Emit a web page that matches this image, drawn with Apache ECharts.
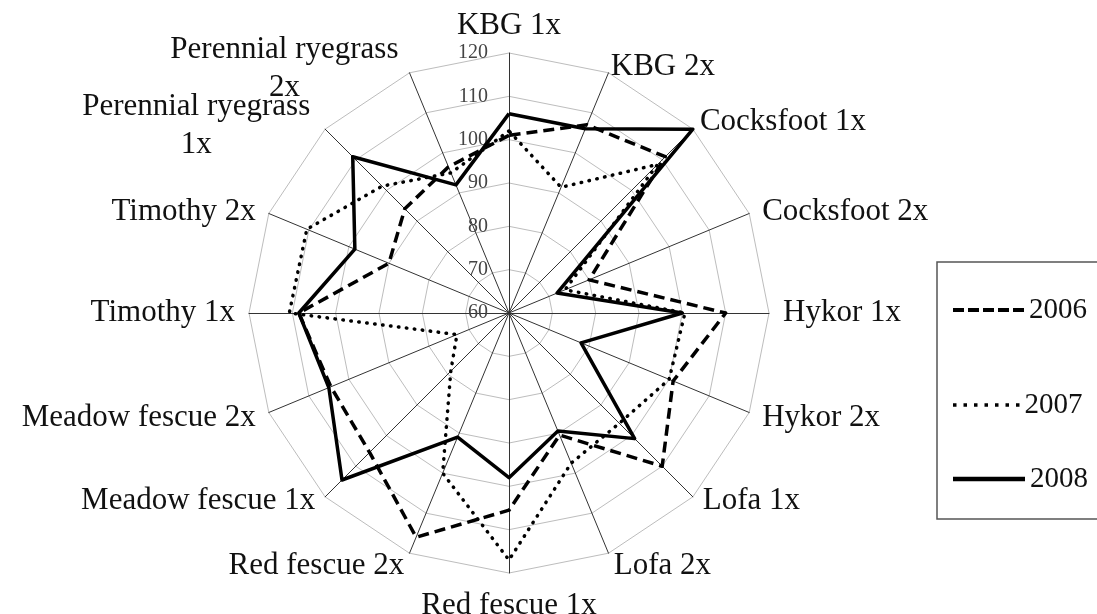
<!DOCTYPE html>
<html>
<head>
<meta charset="utf-8">
<script src="https://cdn.jsdelivr.net/npm/echarts@6/dist/echarts.min.js"></script>
<style>
  html, body { margin: 0; padding: 0; background: #fff; }
  #chart { width: 1097px; height: 614px; }
</style>
</head>
<body>
<div id="chart"></div>
<script>
// Treatments, listed clockwise starting from the top axis
const categories = [
  'KBG 1x', 'KBG 2x', 'Cocksfoot 1x', 'Cocksfoot 2x', 'Hykor 1x', 'Hykor 2x',
  'Lofa 1x', 'Lofa 2x', 'Red fescue 1x', 'Red fescue 2x', 'Meadow fescue 1x',
  'Meadow fescue 2x', 'Timothy 1x', 'Timothy 2x', 'Perennial ryegrass\n1x',
  'Perennial ryegrass\n2x'
];

// Relative values per year, same order as categories
const values2006 = [101, 107, 111, 80, 110, 101, 110, 90.5, 105.5, 116, 105.5, 104.5, 108.5, 90, 94, 96.5];
const values2007 = [102, 91.4, 108.5, 74, 100.6, 100, 96, 97.5, 117, 100, 79, 73, 110.7, 110.5, 101.4, 95];
const values2008 = [106, 106, 120, 72, 100, 78, 101, 89.5, 98, 91, 114.5, 105, 108.5, 98.5, 111, 92];

const years = ['2006', '2007', '2008'];
const scaleMin = 60;
const scaleMax = 120;

const SERIF = '"Liberation Serif", "Times New Roman", serif';
const NAME_SIZE = 31;

// ECharts places radar axes counter-clockwise; flip so they run clockwise
const toCcw = arr => [arr[0]].concat(arr.slice(1).reverse());

// Per-axis distance between the outer ring and the axis name
const nameGaps = {
  'KBG 1x': 8,
  'KBG 2x': 6,
  'Cocksfoot 1x': 10,
  'Perennial ryegrass\n2x': 8,
  'Perennial ryegrass\n1x': 14
};
// Per-axis nudges of the name box [top, right, bottom, left]
const namePads = {
  'Cocksfoot 2x': [8, 0, 0, 0],
  'Timothy 2x': [8, 0, 0, 0],
  'Lofa 1x': [0, 0, 11, 0],
  'Meadow fescue 1x': [0, 0, 11, 0],
  'Perennial ryegrass\n2x': [6, 8, 0, 0],
  'Perennial ryegrass\n1x': [14, 5, 0, 0]
};

const indicators = toCcw(categories).map((name, i) => {
  const ind = { name: name, min: scaleMin, max: scaleMax };
  if (i === 0) ind.axisLabel = { show: true };
  if (nameGaps[name] != null) ind.nameGap = nameGaps[name];
  if (namePads[name]) ind.nameTextStyle = { padding: namePads[name] };
  return ind;
});

// Legend symbols: dashed, dotted and solid strokes
const dashIcon = 'path://M0 0h11v4h-11z M15 0h11v4h-11z M30 0h11v4h-11z M45 0h11v4h-11z M60 0h11v4h-11z';
const dotIcon = 'path://M0 0h3.5v3.5h-3.5z M10.5 0h3.5v3.5h-3.5z M21 0h3.5v3.5h-3.5z M31.5 0h3.5v3.5h-3.5z M42 0h3.5v3.5h-3.5z M52.5 0h3.5v3.5h-3.5z M63 0h3.5v3.5h-3.5z';

const lineStyles = [
  { color: '#000', width: 3.5, type: [11, 6] },
  { color: '#000', width: 3.5, type: [0.5, 7.5], cap: 'round' },
  { color: '#000', width: 3.5, type: 'solid' }
];
const seriesValues = [values2006, values2007, values2008];

function legendFor(idx, top, icon, w, h) {
  return {
    orient: 'vertical',
    left: 953,
    top: top,
    padding: 0,
    itemWidth: w,
    itemHeight: h,
    selectedMode: false,
    textStyle: { fontFamily: SERIF, fontSize: 29, color: '#111', lineHeight: 30 },
    data: [{ name: years[idx], icon: icon, itemStyle: { color: '#000', borderWidth: 0 } }]
  };
}

const chart = echarts.init(document.getElementById('chart'), null, { renderer: 'canvas' });

chart.setOption({
  animation: false,
  backgroundColor: '#fff',
  legend: [
    legendFor(0, 295, dashIcon, 71, 4),
    legendFor(1, 390, dotIcon, 66.5, 3.5),
    legendFor(2, 464, 'rect', 72, 4.5)
  ],
  graphic: [{
    type: 'rect',
    shape: { x: 937, y: 262, width: 175, height: 257 },
    style: { fill: 'none', stroke: '#555', lineWidth: 1.5 },
    silent: true
  }],
  radar: {
    center: [509, 313],
    radius: 260,
    startAngle: 90,
    shape: 'polygon',
    splitNumber: 6,
    indicator: indicators,
    nameGap: 14,
    axisName: {
      color: '#111',
      fontFamily: SERIF,
      fontSize: NAME_SIZE,
      formatter: name => name.split('\n').map(l => '{c|' + l + '}').join('\n'),
      rich: {
        c: { align: 'center', fontFamily: SERIF, fontSize: NAME_SIZE, color: '#111', lineHeight: 38 }
      }
    },
    axisLine: { lineStyle: { color: '#333', width: 1 } },
    splitLine: { lineStyle: { color: '#bdbdbd', width: 1 } },
    splitArea: { show: false },
    axisTick: { show: false },
    axisLabel: {
      show: false,
      color: '#444',
      fontFamily: SERIF,
      fontSize: 20,
      margin: 21
    }
  },
  series: [{
    type: 'radar',
    symbol: 'none',
    silent: true,
    data: years.map((y, i) => ({
      name: y,
      value: toCcw(seriesValues[i]),
      lineStyle: lineStyles[i],
      itemStyle: { color: '#000' }
    }))
  }]
});
</script>
</body>
</html>
